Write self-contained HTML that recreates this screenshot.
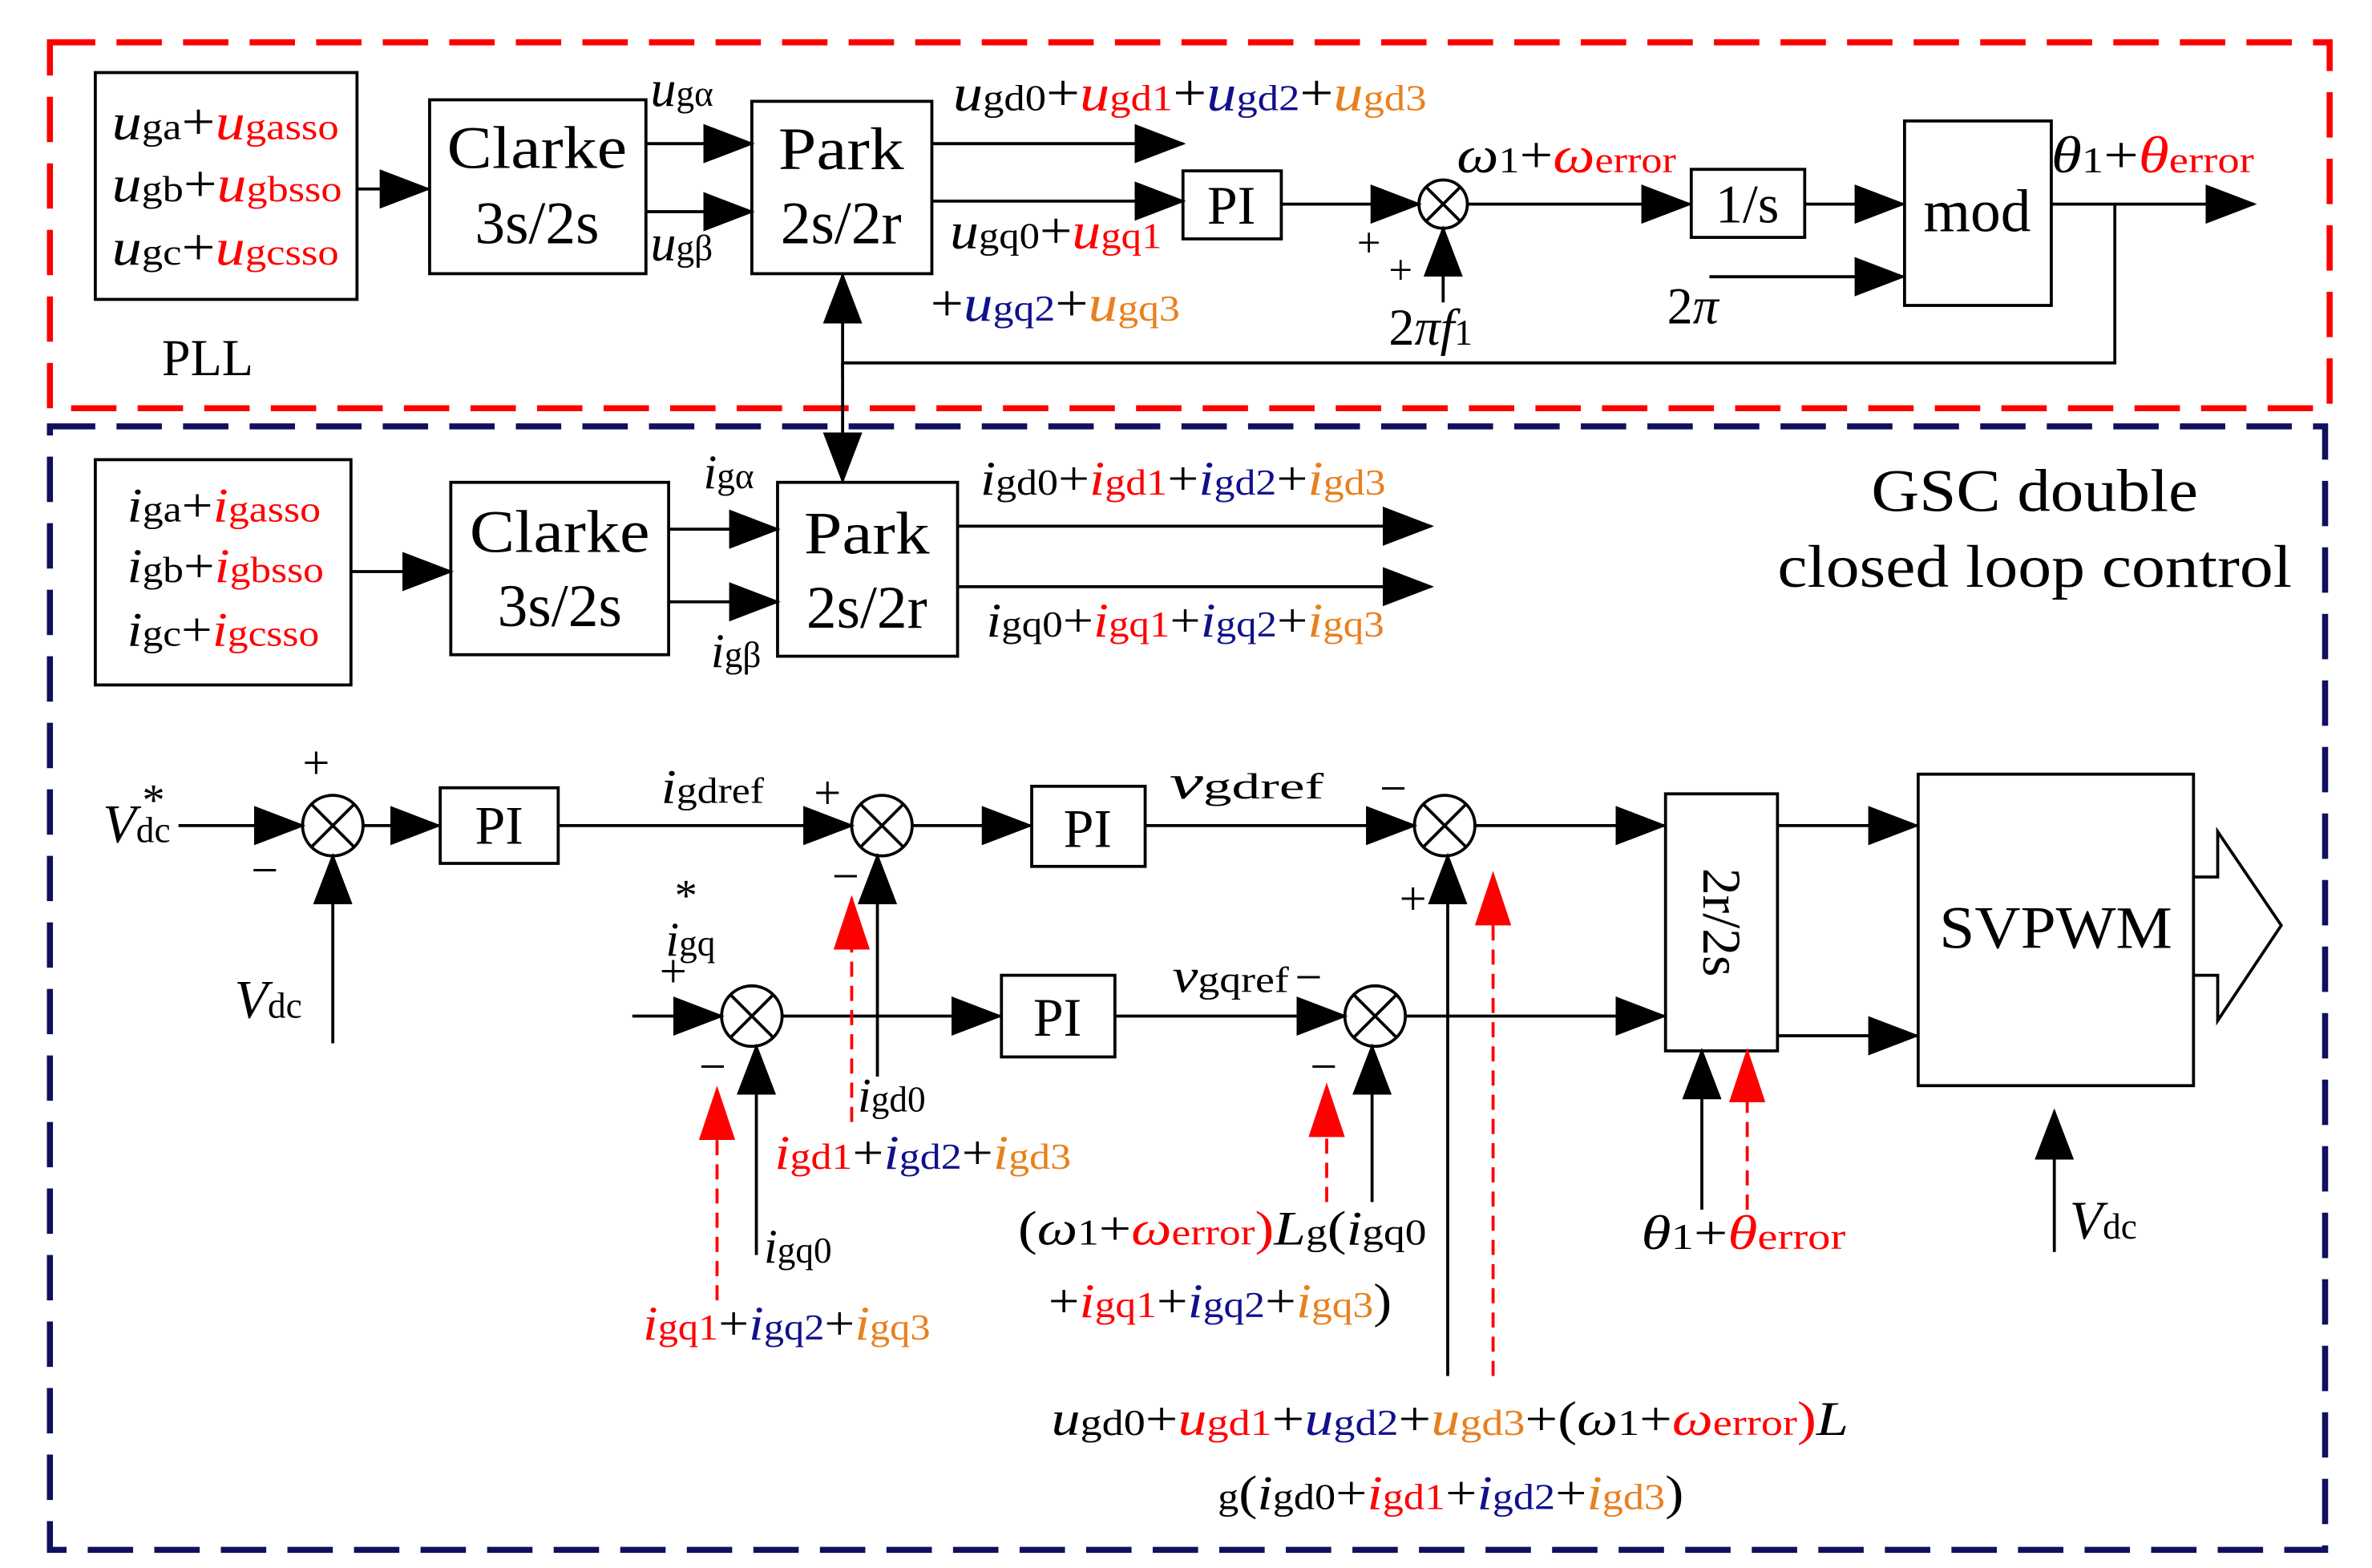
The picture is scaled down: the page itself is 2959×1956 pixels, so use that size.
<!DOCTYPE html>
<html><head><meta charset="utf-8"><style>
html,body{margin:0;padding:0;background:#fff;}
svg{display:block;}
text{font-family:"Liberation Serif",serif;fill:#000;}
.i{font-style:italic;}
.r{fill:#ff0000;}
.b{fill:#10108c;}
.o{fill:#e8801e;}
.s{font-size:24px;font-style:normal;}
</style></head><body>
<svg width="2959" height="1956" viewBox="0 0 1568 1037" preserveAspectRatio="none" xmlns="http://www.w3.org/2000/svg">
<defs>
<marker id="a" markerUnits="userSpaceOnUse" markerWidth="34" markerHeight="26" refX="32" refY="13" orient="auto"><path d="M0,0 L34,13 L0,26 Z" fill="#000"/></marker>
<marker id="ar" markerUnits="userSpaceOnUse" markerWidth="36" markerHeight="24" refX="34" refY="12" orient="auto"><path d="M0,0 L36,12 L0,24 Z" fill="#ff0000"/></marker>
</defs>
<g fill="none">
<rect x="33" y="28" width="1507" height="242" stroke="#ff0000" stroke-width="4" stroke-dasharray="30,14"/>
<rect x="33" y="282" width="1504" height="743" stroke="#10105e" stroke-width="4" stroke-dasharray="30,14"/>
</g>
<g fill="none" stroke="#000" stroke-width="2">
<rect x="63" y="48" width="173" height="150"/>
<rect x="284" y="66" width="143" height="115"/>
<rect x="497" y="67" width="119" height="114"/>
<rect x="782" y="113" width="65" height="45"/>
<rect x="1118" y="112" width="75" height="45"/>
<rect x="1259" y="80" width="97" height="122"/>
<circle cx="954" cy="135" r="16"/>
<path d="M943,124 L965,146 M965,124 L943,146"/>
<line x1="236" y1="125" x2="283" y2="125" marker-end="url(#a)"/>
<line x1="427" y1="95" x2="497" y2="95" marker-end="url(#a)"/>
<line x1="427" y1="140" x2="497" y2="140" marker-end="url(#a)"/>
<line x1="616" y1="95" x2="782" y2="95" marker-end="url(#a)"/>
<line x1="616" y1="133" x2="782" y2="133" marker-end="url(#a)"/>
<line x1="847" y1="135" x2="938" y2="135" marker-end="url(#a)"/>
<line x1="954" y1="200" x2="954" y2="151" marker-end="url(#a)"/>
<line x1="970" y1="135" x2="1117" y2="135" marker-end="url(#a)"/>
<line x1="1193" y1="135" x2="1258" y2="135" marker-end="url(#a)"/>
<line x1="1130" y1="183" x2="1258" y2="183" marker-end="url(#a)"/>
<line x1="1356" y1="135" x2="1490" y2="135" marker-end="url(#a)"/>
<polyline points="1398,135 1398,240 557,240"/>
<line x1="557" y1="250" x2="557" y2="182" marker-end="url(#a)"/>
<line x1="557" y1="240" x2="557" y2="318" marker-end="url(#a)"/>
<rect x="63" y="304" width="169" height="149"/>
<rect x="298" y="319" width="144" height="114"/>
<rect x="514" y="319" width="119" height="115"/>
<line x1="232" y1="378" x2="298" y2="378" marker-end="url(#a)"/>
<line x1="442" y1="350" x2="514" y2="350" marker-end="url(#a)"/>
<line x1="442" y1="398" x2="514" y2="398" marker-end="url(#a)"/>
<line x1="633" y1="348" x2="946" y2="348" marker-end="url(#a)"/>
<line x1="633" y1="388" x2="946" y2="388" marker-end="url(#a)"/>
<rect x="291" y="521" width="78" height="50"/>
<rect x="682" y="520" width="75" height="53"/>
<rect x="662" y="645" width="75" height="54"/>
<rect x="1101" y="525" width="74" height="170"/>
<rect x="1268" y="512" width="182" height="206"/>
<path d="M1450,580 L1466,580 L1466,550 L1508,612 L1466,675 L1466,645 L1450,645"/>
<circle cx="220" cy="546" r="20"/><path d="M206,532 L234,560 M234,532 L206,560"/>
<circle cx="583" cy="546" r="20"/><path d="M569,532 L597,560 M597,532 L569,560"/>
<circle cx="955" cy="546" r="20"/><path d="M941,532 L969,560 M969,532 L941,560"/>
<circle cx="497" cy="672" r="20"/><path d="M483,658 L511,686 M511,658 L483,686"/>
<circle cx="909" cy="672" r="20"/><path d="M895,658 L923,686 M923,658 L895,686"/>
<line x1="118" y1="546" x2="200" y2="546" marker-end="url(#a)"/>
<line x1="220" y1="690" x2="220" y2="566" marker-end="url(#a)"/>
<line x1="240" y1="546" x2="290" y2="546" marker-end="url(#a)"/>
<line x1="369" y1="546" x2="563" y2="546" marker-end="url(#a)"/>
<line x1="603" y1="546" x2="681" y2="546" marker-end="url(#a)"/>
<line x1="757" y1="546" x2="935" y2="546" marker-end="url(#a)"/>
<line x1="975" y1="546" x2="1100" y2="546" marker-end="url(#a)"/>
<line x1="1175" y1="546" x2="1267" y2="546" marker-end="url(#a)"/>
<line x1="1175" y1="685" x2="1267" y2="685" marker-end="url(#a)"/>
<line x1="1358" y1="828" x2="1358" y2="735" marker-end="url(#a)"/>
<line x1="418" y1="672" x2="477" y2="672" marker-end="url(#a)"/>
<line x1="500" y1="830" x2="500" y2="692" marker-end="url(#a)"/>
<line x1="517" y1="672" x2="661" y2="672" marker-end="url(#a)"/>
<line x1="737" y1="672" x2="889" y2="672" marker-end="url(#a)"/>
<line x1="907" y1="795" x2="907" y2="692" marker-end="url(#a)"/>
<line x1="929" y1="672" x2="1100" y2="672" marker-end="url(#a)"/>
<line x1="957" y1="910" x2="957" y2="566" marker-end="url(#a)"/>
<line x1="580" y1="712" x2="580" y2="566" marker-end="url(#a)"/>
<line x1="1125" y1="800" x2="1125" y2="695" marker-end="url(#a)"/>
</g>
<g fill="none" stroke="#ff0000" stroke-width="2" stroke-dasharray="10,6">
<line x1="474" y1="860" x2="474" y2="720" marker-end="url(#ar)"/>
<line x1="877" y1="795" x2="877" y2="718" marker-end="url(#ar)"/>
<line x1="987" y1="910" x2="987" y2="578" marker-end="url(#ar)"/>
<line x1="563" y1="742" x2="563" y2="594" marker-end="url(#ar)"/>
<line x1="1155" y1="800" x2="1155" y2="695" marker-end="url(#ar)"/>
</g>
<g font-size="34">
<text x="74" y="92" textLength="150" lengthAdjust="spacingAndGlyphs"><tspan class="i">u</tspan><tspan class="s">ga</tspan>+<tspan class="i r">u</tspan><tspan class="s r">gasso</tspan></text>
<text x="74" y="133" textLength="152" lengthAdjust="spacingAndGlyphs"><tspan class="i">u</tspan><tspan class="s">gb</tspan>+<tspan class="i r">u</tspan><tspan class="s r">gbsso</tspan></text>
<text x="74" y="175" textLength="150" lengthAdjust="spacingAndGlyphs"><tspan class="i">u</tspan><tspan class="s">gc</tspan>+<tspan class="i r">u</tspan><tspan class="s r">gcsso</tspan></text>
<text x="107" y="248">PLL</text>
<text x="430" y="70"><tspan class="i">u</tspan><tspan class="s i">gα</tspan></text>
<text x="430" y="172"><tspan class="i">u</tspan><tspan class="s">gβ</tspan></text>
<text x="630" y="73" textLength="313" lengthAdjust="spacingAndGlyphs"><tspan class="i">u</tspan><tspan class="s">gd0</tspan>+<tspan class="i r">u</tspan><tspan class="s r">gd1</tspan>+<tspan class="i b">u</tspan><tspan class="s b">gd2</tspan>+<tspan class="i o">u</tspan><tspan class="s o">gd3</tspan></text>
<text x="628" y="164" textLength="140" lengthAdjust="spacingAndGlyphs"><tspan class="i">u</tspan><tspan class="s">gq0</tspan>+<tspan class="i r">u</tspan><tspan class="s r">gq1</tspan></text>
<text x="615" y="212" textLength="165" lengthAdjust="spacingAndGlyphs">+<tspan class="i b">u</tspan><tspan class="s b">gq2</tspan>+<tspan class="i o">u</tspan><tspan class="s o">gq3</tspan></text>
<text x="963" y="114" textLength="145" lengthAdjust="spacingAndGlyphs"><tspan class="i">ω</tspan><tspan class="s">1</tspan>+<tspan class="i r">ω</tspan><tspan class="s r">error</tspan></text>
<text x="897" y="170" font-size="28">+</text><text x="918" y="188" font-size="28">+</text>
<text x="918" y="228">2<tspan class="i">πf</tspan><tspan class="s">1</tspan></text>
<text x="1102" y="214">2<tspan class="i">π</tspan></text>
<text x="1356" y="114" textLength="134" lengthAdjust="spacingAndGlyphs"><tspan class="i">θ</tspan><tspan class="s">1</tspan>+<tspan class="i r">θ</tspan><tspan class="s r">error</tspan></text>
</g>
<g font-size="40" text-anchor="middle">
<text x="355" y="111" textLength="119" lengthAdjust="spacingAndGlyphs">Clarke</text><text x="355" y="161">3s/2s</text>
<text x="556" y="112" textLength="83" lengthAdjust="spacingAndGlyphs">Park</text><text x="556" y="161">2s/2r</text>
<text x="814" y="148" font-size="36">PI</text>
<text x="1155" y="147" font-size="36">1/s</text>
<text x="1307" y="153">mod</text>
<text x="370" y="365" textLength="119" lengthAdjust="spacingAndGlyphs">Clarke</text><text x="370" y="414">3s/2s</text>
<text x="573" y="366" textLength="83" lengthAdjust="spacingAndGlyphs">Park</text><text x="573" y="415">2s/2r</text>
<text x="1345" y="338" textLength="216" lengthAdjust="spacingAndGlyphs">GSC double</text><text x="1345" y="388" textLength="340" lengthAdjust="spacingAndGlyphs">closed loop control</text>
<text x="330" y="558" font-size="36">PI</text>
<text x="719" y="560" font-size="36">PI</text>
<text x="699" y="685" font-size="36">PI</text>
<text x="1359" y="627" textLength="154" lengthAdjust="spacingAndGlyphs">SVPWM</text>
<text transform="translate(1126,610) rotate(90)" font-size="36">2r/2s</text>
</g>
<g font-size="32">
<text x="84" y="345" textLength="128" lengthAdjust="spacingAndGlyphs"><tspan class="i">i</tspan><tspan class="s">ga</tspan>+<tspan class="i r">i</tspan><tspan class="s r">gasso</tspan></text>
<text x="84" y="385" textLength="130" lengthAdjust="spacingAndGlyphs"><tspan class="i">i</tspan><tspan class="s">gb</tspan>+<tspan class="i r">i</tspan><tspan class="s r">gbsso</tspan></text>
<text x="84" y="427" textLength="127" lengthAdjust="spacingAndGlyphs"><tspan class="i">i</tspan><tspan class="s">gc</tspan>+<tspan class="i r">i</tspan><tspan class="s r">gcsso</tspan></text>
<text x="465" y="323"><tspan class="i">i</tspan><tspan class="s i">gα</tspan></text>
<text x="470" y="441"><tspan class="i">i</tspan><tspan class="s">gβ</tspan></text>
<text x="648" y="327" textLength="268" lengthAdjust="spacingAndGlyphs"><tspan class="i">i</tspan><tspan class="s">gd0</tspan>+<tspan class="i r">i</tspan><tspan class="s r">gd1</tspan>+<tspan class="i b">i</tspan><tspan class="s b">gd2</tspan>+<tspan class="i o">i</tspan><tspan class="s o">gd3</tspan></text>
<text x="652" y="421" textLength="263" lengthAdjust="spacingAndGlyphs"><tspan class="i">i</tspan><tspan class="s">gq0</tspan>+<tspan class="i r">i</tspan><tspan class="s r">gq1</tspan>+<tspan class="i b">i</tspan><tspan class="s b">gq2</tspan>+<tspan class="i o">i</tspan><tspan class="s o">gq3</tspan></text>
<text x="68" y="557" font-size="36"><tspan class="i">V</tspan><tspan class="s">dc</tspan></text>
<text x="94" y="539" font-size="30">*</text>
<text x="200" y="515">+</text><text x="166" y="586">−</text>
<text x="155" y="673" font-size="36"><tspan class="i">V</tspan><tspan class="s">dc</tspan></text>
<text x="437" y="531" textLength="68" lengthAdjust="spacingAndGlyphs"><tspan class="i">i</tspan><tspan class="s">gdref</tspan></text>
<text x="538" y="535">+</text><text x="550" y="590">−</text>
<text x="773" y="528" textLength="102" lengthAdjust="spacingAndGlyphs"><tspan class="i">v</tspan><tspan class="s">gdref</tspan></text>
<text x="912" y="532">−</text><text x="925" y="605">+</text>
<text x="440" y="632"><tspan class="i">i</tspan><tspan class="s">gq</tspan></text>
<text x="446" y="602" font-size="30">*</text>
<text x="436" y="653">+</text><text x="462" y="716">−</text>
<text x="775" y="656" textLength="77" lengthAdjust="spacingAndGlyphs"><tspan class="i">v</tspan><tspan class="s">gqref</tspan></text>
<text x="856" y="657">−</text><text x="866" y="716">−</text>
<text x="505" y="835"><tspan class="i">i</tspan><tspan class="s">gq0</tspan></text>
<text x="425" y="886" textLength="190" lengthAdjust="spacingAndGlyphs"><tspan class="i r">i</tspan><tspan class="s r">gq1</tspan>+<tspan class="i b">i</tspan><tspan class="s b">gq2</tspan>+<tspan class="i o">i</tspan><tspan class="s o">gq3</tspan></text>
<text x="567" y="735"><tspan class="i">i</tspan><tspan class="s">gd0</tspan></text>
<text x="512" y="773" textLength="196" lengthAdjust="spacingAndGlyphs"><tspan class="i r">i</tspan><tspan class="s r">gd1</tspan>+<tspan class="i b">i</tspan><tspan class="s b">gd2</tspan>+<tspan class="i o">i</tspan><tspan class="s o">gd3</tspan></text>
<text x="673" y="823" textLength="270" lengthAdjust="spacingAndGlyphs">(<tspan class="i">ω</tspan><tspan class="s">1</tspan>+<tspan class="i r">ω</tspan><tspan class="s r">error</tspan><tspan class="r">)</tspan><tspan class="i">L</tspan><tspan class="s">g</tspan>(<tspan class="i">i</tspan><tspan class="s">gq0</tspan></text>
<text x="693" y="871" textLength="227" lengthAdjust="spacingAndGlyphs">+<tspan class="i r">i</tspan><tspan class="s r">gq1</tspan>+<tspan class="i b">i</tspan><tspan class="s b">gq2</tspan>+<tspan class="i o">i</tspan><tspan class="s o">gq3</tspan>)</text>
<text x="695" y="949" textLength="527" lengthAdjust="spacingAndGlyphs"><tspan class="i">u</tspan><tspan class="s">gd0</tspan>+<tspan class="i r">u</tspan><tspan class="s r">gd1</tspan>+<tspan class="i b">u</tspan><tspan class="s b">gd2</tspan>+<tspan class="i o">u</tspan><tspan class="s o">gd3</tspan>+(<tspan class="i">ω</tspan><tspan class="s">1</tspan>+<tspan class="i r">ω</tspan><tspan class="s r">error</tspan><tspan class="r">)</tspan><tspan class="i">L</tspan></text>
<text x="805" y="998" textLength="308" lengthAdjust="spacingAndGlyphs"><tspan class="s">g</tspan>(<tspan class="i">i</tspan><tspan class="s">gd0</tspan>+<tspan class="i r">i</tspan><tspan class="s r">gd1</tspan>+<tspan class="i b">i</tspan><tspan class="s b">gd2</tspan>+<tspan class="i o">i</tspan><tspan class="s o">gd3</tspan>)</text>
<text x="1085" y="826" textLength="135" lengthAdjust="spacingAndGlyphs"><tspan class="i">θ</tspan><tspan class="s">1</tspan>+<tspan class="i r">θ</tspan><tspan class="s r">error</tspan></text>
<text x="1368" y="819" font-size="36"><tspan class="i">V</tspan><tspan class="s">dc</tspan></text>
</g>
</svg>
</body></html>
